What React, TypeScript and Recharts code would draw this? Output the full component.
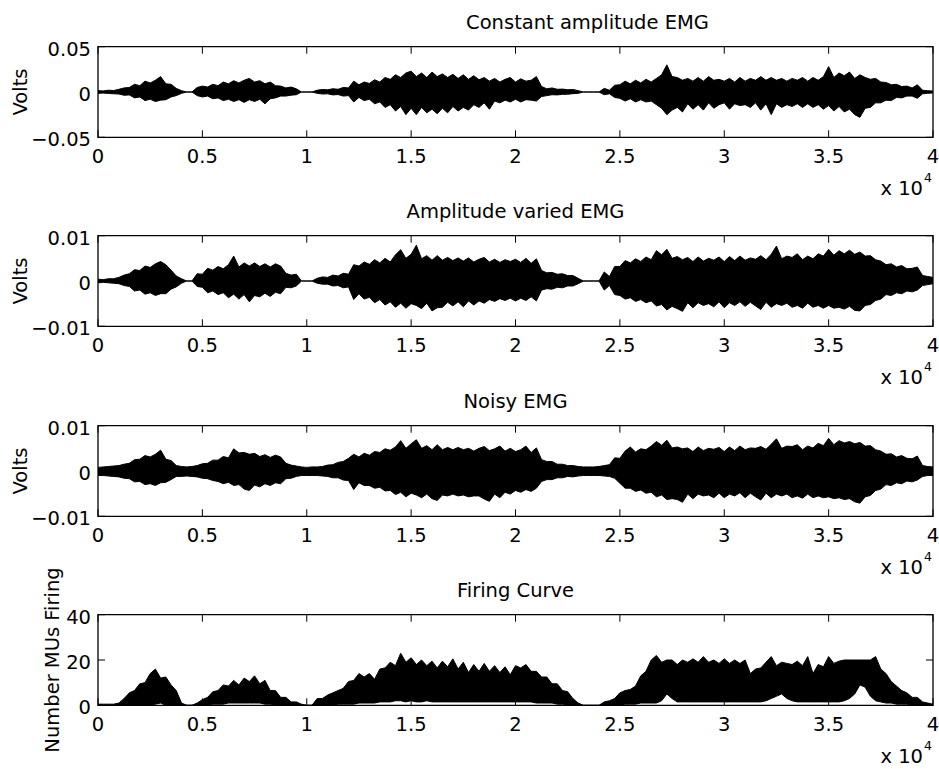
import React from 'react';
import { ComposedChart, Area, XAxis, YAxis, ReferenceArea, Label } from 'recharts';

// Sample index of every envelope reading (one reading every 250 samples)
const SAMPLE_STEP = 250;
const samples: number[] = Array.from({ length: 161 }, (_, i) => i * SAMPLE_STEP);

const xTicks = [0, 5000, 10000, 15000, 20000, 25000, 30000, 35000, 40000];
const constTicks = [-0.05, 0, 0.05];
const variedTicks = [-0.01, 0, 0.01];
const noisyTicks = [-0.01, 0, 0.01];
const firingTicks = [0, 20, 40];

// Constant amplitude EMG envelope, mV
const constHi = [
  1.5, 1.2, 2, 1.6, 3, 4.5, 5, 8.5, 7, 12,
  10, 13, 17, 9, 8.5, 4, 1.5, 0, 0, 5,
  6.5, 5.5, 8.5, 7, 11, 9, 12.5, 10, 13, 15,
  11, 12.5, 9, 11, 7, 6.5, 4.5, 5.5, 3.5, 0,
  0, 0, 2, 2.8, 2.4, 3.6, 3, 5, 4.5, 12,
  8, 11, 9.5, 13.5, 11, 16, 14, 19, 16, 21,
  23, 17, 21, 16, 22, 17, 20, 16, 19.5, 15,
  19, 14, 18, 13.5, 16, 12, 15, 11, 14, 16,
  11, 14.5, 12, 13, 17, 6, 3.5, 4.5, 3, 3.2,
  2.5, 2.8, 1.5, 0, 0, 0, 0, 4, 2, 7.5,
  8, 12, 9, 13, 10, 14, 11, 15, 19, 30,
  17, 16, 13, 15, 12, 16, 12, 17, 13, 14,
  12, 15, 11, 16, 12, 15, 13, 17, 13, 16,
  13, 15, 12, 15, 13, 16, 12, 16, 13, 17,
  28, 16, 21, 18, 22, 15, 19, 16, 14, 15,
  11, 10.5, 8, 8.5, 6, 6.5, 4.5, 8, 2, 1.5,
  1,
];
const constLo = [
  -1.5, -1.2, -1.6, -2, -2.2, -3.6, -3.2, -6.5, -5.5, -9.5,
  -8, -10.5, -9, -8.5, -5.5, -4, -1.5, 0, 0, -4,
  -5.5, -4.5, -7.5, -6.5, -9.5, -8, -10.5, -8.5, -11.5, -8.5,
  -10.5, -8, -13, -7.5, -6.5, -4.5, -4.5, -3.5, -3, 0,
  0, 0, -1.5, -2.2, -2, -3.2, -2.8, -4.5, -4, -11,
  -6, -9.5, -8, -13, -11, -17, -14, -21, -16, -25,
  -18, -25, -17, -23, -19, -24, -18, -23, -16, -21,
  -17, -20, -14, -17, -12, -19, -10, -12, -9, -11,
  -8, -11, -8.5, -9, -10, -5, -4, -3, -3.2, -2.6,
  -2.5, -1.8, -1.5, 0, 0, 0, 0, -3, -2, -6,
  -7, -10, -7.5, -11, -8.5, -11, -10, -14, -18, -25,
  -20, -17, -22, -13, -19, -14, -20, -12, -18, -14,
  -12, -19, -13, -15, -14, -17, -12, -20, -13, -25,
  -13, -17, -14, -16, -13, -17, -13, -17, -14, -19,
  -15, -21, -16, -22, -19, -25, -28, -18, -17, -12,
  -12, -9, -9.5, -6, -6.5, -4.5, -4.5, -7, -2, -1.5,
  -1,
];

// Amplitude varied EMG envelope, mV
const variedHi = [
  0.4, 0.3, 0.5, 0.5, 0.8, 1.3, 1.6, 2.5, 2.3, 3.3,
  3, 3.8, 4.3, 3.6, 2.4, 1.1, 0.5, 0, 0, 1.6,
  1.5, 2.8, 2.4, 3.2, 2.7, 3.6, 5.5, 3.1, 4, 3.3,
  4, 3.2, 3.8, 3.1, 3.8, 3.3, 1.7, 1.3, 1.5, 0,
  0, 0, 0.6, 0.9, 0.8, 1.3, 1.1, 1.7, 1.5, 3.6,
  3.3, 4.2, 3.7, 4.7, 4, 5, 4.2, 5.8, 6.9, 5,
  5.9, 7.9, 4.9, 5.6, 4.6, 5.6, 4.6, 5.2, 4.5, 5.1,
  4.4, 5.1, 4.2, 4.8, 5.2, 4.2, 4.8, 4.1, 4.7, 4.3,
  4.8, 4.1, 5, 3.9, 4.9, 2.3, 1.8, 1.9, 1.5, 1.6,
  1.2, 1.2, 0.6, 0, 0, 0, 0, 2, 1, 3.2,
  3.2, 4.5, 4, 4.9, 4.3, 5.3, 4.7, 6.7, 5.8, 7,
  5, 5.4, 4.7, 5.2, 4.3, 5.3, 4.4, 5, 4.6, 5.3,
  4.3, 5.4, 4.5, 5.5, 4.6, 5.1, 4.8, 5.6, 4.7, 5.9,
  7.7, 4.9, 5.5, 5.2, 6, 4.7, 5.5, 4.9, 6, 5.5,
  7, 5.7, 6.7, 6, 6.8, 5.9, 6.4, 5.5, 5.6, 4.7,
  4.4, 3.6, 3.8, 3.1, 3.4, 2.7, 2.8, 3.1, 1.2, 1,
  0.8,
];
const variedLo = [
  -0.4, -0.3, -0.4, -0.5, -0.6, -1, -1.2, -2.2, -2, -2.9,
  -2.6, -3.2, -2.8, -2.8, -1.8, -1.3, -0.5, 0, 0, -1.2,
  -1.4, -2.6, -2.2, -3, -2.6, -3.7, -2.9, -4, -3, -4.6,
  -3.2, -3.5, -2.7, -3.4, -2.5, -2.8, -1.4, -1.5, -1.1, 0,
  0, 0, -0.5, -0.7, -0.7, -1.1, -1, -1.5, -1.3, -4.1,
  -2.8, -4, -3.6, -4.8, -4.1, -5.3, -4.6, -5.8, -4.9, -6,
  -5, -5.4, -6.1, -4.9, -6.6, -5.9, -5.8, -4.7, -5.5, -4.6,
  -5.7, -4.4, -5.3, -4.4, -4.9, -4.1, -4.5, -3.9, -4.3, -3.8,
  -4.4, -3.8, -4.3, -3.5, -4.4, -2, -1.7, -1.8, -1.4, -1.5,
  -1.1, -1.1, -0.6, 0, 0, 0, 0, -2, -1, -3,
  -3.2, -4, -3.7, -4.5, -4.1, -4.8, -4.4, -5.5, -5.2, -6.4,
  -5.6, -6.1, -6.7, -4.8, -5.9, -4.8, -5.4, -5, -5.7, -4.6,
  -5.9, -4.8, -5.4, -4.6, -5.6, -4.7, -5.5, -6.3, -4.7, -5.8,
  -5, -5.4, -4.9, -5.8, -5.4, -6, -4.9, -5.8, -5.4, -6,
  -5.4, -6, -5.8, -6.2, -5.6, -6.5, -6.6, -5.4, -5.2, -4.3,
  -4, -3, -3.2, -2.6, -2.8, -2.2, -2.4, -2, -1, -0.8,
  -0.6,
];

// Noisy EMG envelope, mV
const noisyHi = [
  0.8, 0.9, 1, 1.1, 1.2, 1.5, 1.7, 2.5, 2.6, 3.4,
  3.1, 3.7, 4.6, 2.6, 2.3, 1.2, 1, 0.9, 1, 1.2,
  1.6, 1.7, 2.4, 2.4, 3.2, 2.9, 4.9, 4, 4.1, 3.7,
  3.9, 3.2, 3.6, 3, 3.5, 3.1, 1.7, 1.3, 1.1, 0.9,
  0.8, 0.9, 0.9, 1, 1.3, 1.4, 1.9, 2.1, 2.8, 3.7,
  3.1, 3.9, 3.5, 4.3, 4.1, 4.9, 4.6, 5.3, 6.7, 5,
  6, 6.9, 5, 5.6, 4.7, 5.8, 4.7, 5.2, 4.7, 5.2,
  4.7, 5, 4.4, 5, 5.4, 4.5, 4.9, 5.5, 4.4, 5,
  4.3, 4.7, 5.5, 4.1, 5.1, 2.5, 2.1, 2.1, 1.5, 1.5,
  1.2, 1.2, 1, 0.9, 0.9, 0.9, 1, 1.2, 1.4, 2.9,
  2.8, 4.4, 5.3, 4.2, 4.9, 4.7, 5.5, 6.5, 5.7, 6.8,
  5.1, 5.3, 4.9, 5.1, 4.3, 5.3, 4.5, 5, 4.8, 5.2,
  4.3, 5.3, 4.5, 5.5, 4.7, 5.1, 5, 5.4, 4.8, 5.9,
  7.1, 5, 5.5, 5.4, 5.8, 4.7, 5.5, 5.1, 6.1, 5.6,
  7.2, 5.8, 6.7, 6.2, 6.5, 6, 6.3, 5.5, 5.6, 4.7,
  4.4, 3.7, 3.8, 3.1, 3.4, 2.8, 2.7, 3.3, 1.2, 1,
  0.9,
];
const noisyLo = [
  -1, -1, -1.1, -1.2, -1.3, -1.6, -1.7, -2.4, -2.3, -3,
  -2.8, -3.2, -2.6, -2.5, -1.9, -1.2, -1.2, -1.1, -1.2, -1.3,
  -1.6, -1.7, -2.1, -2.3, -2.8, -2.5, -3.2, -3, -4, -4.3,
  -3.1, -3.5, -2.8, -3.2, -2.6, -2.8, -1.7, -1.6, -1.2, -1,
  -1, -1, -1, -1.1, -1.2, -1.5, -1.5, -2, -2.1, -4.1,
  -2.6, -3.2, -3.2, -3.8, -3.6, -4.4, -4.3, -5.2, -4.7, -5.7,
  -4.9, -5.3, -5.9, -5.1, -6.1, -6.5, -5.3, -5.5, -5.1, -5.5,
  -5.3, -5.7, -5.5, -5.5, -6.2, -6.7, -5.1, -5.9, -4.7, -5.1,
  -4.3, -4.7, -4.1, -4.5, -3.8, -2.3, -1.9, -1.9, -1.5, -1.5,
  -1.2, -1.3, -1.1, -1, -1, -1, -1, -1.1, -1.2, -1.6,
  -2.7, -3.8, -3.8, -4.5, -4.2, -4.9, -4.7, -5.7, -5.3, -6.3,
  -6.1, -6.3, -6.9, -5.1, -6.1, -5.1, -5.5, -5.3, -5.9, -4.9,
  -5.9, -5.1, -5.5, -4.8, -5.9, -4.9, -5.7, -6.4, -4.9, -5.9,
  -5.1, -5.5, -5.1, -5.9, -5.5, -6, -5.1, -5.9, -5.5, -5.9,
  -5.7, -6.1, -5.9, -6.3, -6.1, -6.8, -7.1, -5.7, -5.4, -4.3,
  -4, -3, -3.2, -2.6, -2.8, -2.2, -2.4, -2, -1.2, -1,
  -1,
];

// Number of motor units firing: upper and lower envelope
const firingHi = [
  0.5, 0.5, 0.5, 0.5, 1, 3, 5.5, 6.5, 9.5, 10,
  14, 16, 12, 12.5, 9, 6.5, 1, 0, 0, 1,
  2.5, 3.5, 6, 6.5, 9, 8.5, 11, 9, 12, 10.5,
  13, 9.5, 11, 6.5, 6.5, 3.5, 3.5, 1.5, 1.5, 0.5,
  0, 0, 3, 3, 4.5, 5.5, 6.5, 7.5, 10.5, 11,
  14, 12.5, 14, 11.5, 16, 16.5, 19, 17.5, 23, 19,
  21, 18, 20, 17.5, 19.5, 16.5, 19.5, 17, 20.5, 16,
  19, 14.5, 18, 15, 18.5, 15, 17.5, 14.5, 17, 13.5,
  17.5, 16.5, 18, 15, 15, 12.5, 12.5, 9.5, 9.5, 6.5,
  6, 3, 1, 0, 0, 0, 0, 1.5, 2, 3,
  5.5, 6.5, 7, 8.5, 13, 15, 20, 22, 19, 20,
  20, 18, 20, 19, 20.5, 19, 21.5, 19, 20, 18.5,
  20.5, 18.5, 20, 18.5, 20, 14, 16, 16.5, 19, 21.5,
  17.5, 19, 18.5, 18, 19.5, 17.5, 21.5, 14, 18, 17,
  21.5, 18.5, 19.5, 20, 20, 20, 20, 20, 20, 21.5,
  16, 14, 10.5, 8.5, 6.5, 5.5, 3.5, 3.5, 1.5, 1,
  0.5,
];
const firingLo = [
  0, 0, 0, 0, 0, 0, 0, 0, 0, 0,
  0, 0.5, 1, 0, 0, 0, 0, 0, 0, 0,
  0, 0, 0.5, 0.5, 0.5, 1, 1, 1, 1, 1,
  1, 1, 0.5, 0.5, 0, 0, 0, 0, 0, 0,
  0, 0, 0, 0, 0, 0, 0.5, 0.5, 0.5, 0.5,
  1, 1, 1, 1, 1.5, 1.5, 1.5, 2, 2, 1.5,
  2, 1.5, 1.5, 2, 1.5, 1.5, 1.5, 1.5, 1.5, 1.5,
  1.5, 1.5, 1.5, 1.5, 1.5, 1.5, 1.5, 1.5, 1.5, 1.5,
  1.5, 1.5, 1.5, 1.5, 1, 1, 1, 1, 0.5, 0.5,
  0, 0, 0, 0, 0, 0, 0, 0, 0, 0,
  0, 0.5, 0.5, 0.5, 1, 1, 1, 1, 2, 5,
  3, 1.5, 1.5, 1.5, 1.5, 1.5, 1.5, 1.5, 1.5, 1.5,
  1.5, 1.5, 1.5, 1.5, 1.5, 1.5, 1.5, 1.5, 2, 3,
  4, 5, 3, 2, 1.5, 1.5, 1.5, 1.5, 1.5, 1.5,
  1.5, 1.5, 1.5, 2, 3, 5, 9, 8, 4, 2,
  1.5, 1, 1, 0.5, 0.5, 0.5, 0, 0, 0, 0,
  0,
];

const FONT = '"DejaVu Sans", "Liberation Sans", sans-serif';
const FONT_SIZE = 19.5;
const PLOT_LEFT = 98;
const PLOT_WIDTH = 835;
const PLOT_HEIGHT = 90.6;
const TOP_PAD = 46.7;
const CHART_W = 939;
const CHART_H = 230;
const X_AXIS_H = 80;
const TICK_LEN = 7;
const PANEL_STEP = 189.3;

type Row = { s: number; range: [number, number] };

function buildRows(lo: number[], hi: number[], scale: number): Row[] {
  return samples.map((s, i) => ({ s, range: [lo[i] * scale, hi[i] * scale] }));
}

function fmtNum(v: number): string {
  if (v === 0) return '0';
  return (v < 0 ? '\u2212' : '') + String(Math.abs(v));
}

const XTick = (props: any) => {
  const { x, y, payload } = props;
  return (
    <g>
      <line x1={x} y1={y} x2={x} y2={y - TICK_LEN} stroke="#000" strokeWidth={1} />
      <line x1={x} y1={y - PLOT_HEIGHT} x2={x} y2={y - PLOT_HEIGHT + TICK_LEN} stroke="#000" strokeWidth={1} />
      <text x={x} y={y + 26} textAnchor="middle" fill="#000" style={{ fontFamily: FONT, fontSize: FONT_SIZE }}>
        {String(payload.value / 10000)}
      </text>
    </g>
  );
};

const YTick = (props: any) => {
  const { x, y, payload } = props;
  return (
    <g>
      <line x1={x} y1={y} x2={x + TICK_LEN} y2={y} stroke="#000" strokeWidth={1} />
      <line x1={x + PLOT_WIDTH} y1={y} x2={x + PLOT_WIDTH - TICK_LEN} y2={y} stroke="#000" strokeWidth={1} />
      <text x={x - 7} y={y + 9} textAnchor="end" fill="#000" style={{ fontFamily: FONT, fontSize: FONT_SIZE }}>
        {fmtNum(payload.value)}
      </text>
    </g>
  );
};

type PanelProps = {
  index: number;
  rows: Row[];
  domain: [number, number];
  ticks: number[];
  title: string;
  titleShift: number;
  yLabel: string;
  yLabelX: number;
};

function Panel({ index, rows, domain, ticks, title, titleShift, yLabel, yLabelX }: PanelProps) {
  const frameText = (p: any) => {
    const vb = p.viewBox || {};
    const x0 = vb.x ?? PLOT_LEFT;
    const y0 = vb.y ?? TOP_PAD;
    const w = vb.width ?? PLOT_WIDTH;
    const h = vb.height ?? PLOT_HEIGHT;
    const textStyle = { fontFamily: FONT, fontSize: FONT_SIZE };
    return (
      <g>
        <text x={x0 + w / 2 + titleShift} y={y0 - 17.5} textAnchor="middle" fill="#000" style={textStyle}>
          {title}
        </text>
        <text
          x={yLabelX}
          y={y0 + h / 2}
          textAnchor="middle"
          dominantBaseline="central"
          transform={`rotate(-90 ${yLabelX} ${y0 + h / 2})`}
          fill="#000"
          style={textStyle}
        >
          {yLabel}
        </text>
        <text x={x0 + w - 10} y={y0 + h + 58} textAnchor="end" fill="#000" style={textStyle}>
          x 10
        </text>
        <text x={x0 + w - 9} y={y0 + h + 45} textAnchor="start" fill="#000" style={{ fontFamily: FONT, fontSize: 12.5 }}>
          4
        </text>
      </g>
    );
  };

  return (
    <div style={{ position: 'absolute', left: 0, top: index * PANEL_STEP }}>
      <ComposedChart
        width={CHART_W}
        height={CHART_H}
        data={rows}
        margin={{
          top: TOP_PAD,
          right: CHART_W - PLOT_LEFT - PLOT_WIDTH,
          left: 0,
          bottom: CHART_H - TOP_PAD - PLOT_HEIGHT - X_AXIS_H,
        }}
      >
        <XAxis
          dataKey="s"
          type="number"
          domain={[0, 40000]}
          ticks={xTicks}
          interval={0}
          height={X_AXIS_H}
          tickSize={0}
          tickMargin={0}
          axisLine={false}
          tickLine={false}
          tick={<XTick />}
          allowDataOverflow
        />
        <YAxis
          type="number"
          domain={domain}
          ticks={ticks}
          interval={0}
          width={PLOT_LEFT}
          tickSize={0}
          tickMargin={0}
          axisLine={false}
          tickLine={false}
          tick={<YTick />}
          allowDataOverflow
        />
        <Area
          dataKey="range"
          type="linear"
          stroke="#000"
          strokeWidth={1}
          fill="#000"
          fillOpacity={1}
          dot={false}
          activeDot={false}
          isAnimationActive={false}
        />
        <ReferenceArea
          x1={0}
          x2={40000}
          y1={domain[0]}
          y2={domain[1]}
          fill="none"
          fillOpacity={0}
          stroke="#000"
          strokeWidth={1.3}
          ifOverflow="visible"
        >
          <Label content={frameText} />
        </ReferenceArea>
      </ComposedChart>
    </div>
  );
}

const constRows = buildRows(constLo, constHi, 0.001);
const variedRows = buildRows(variedLo, variedHi, 0.001);
const noisyRows = buildRows(noisyLo, noisyHi, 0.001);
const firingRows = buildRows(firingLo, firingHi, 1);

export default function App() {
  return (
    <div style={{ position: 'absolute', left: 0, top: 0, width: CHART_W, height: 769, background: '#fff', overflow: 'hidden' }}>
      <Panel index={0} rows={constRows} domain={[-0.05, 0.05]} ticks={constTicks} title="Constant amplitude EMG" titleShift={72} yLabel="Volts" yLabelX={20} />
      <Panel index={1} rows={variedRows} domain={[-0.01, 0.01]} ticks={variedTicks} title="Amplitude varied EMG" titleShift={0} yLabel="Volts" yLabelX={20} />
      <Panel index={2} rows={noisyRows} domain={[-0.01, 0.01]} ticks={noisyTicks} title="Noisy EMG" titleShift={0} yLabel="Volts" yLabelX={20} />
      <Panel index={3} rows={firingRows} domain={[0, 40]} ticks={firingTicks} title="Firing Curve" titleShift={0} yLabel="Number MUs Firing" yLabelX={52.5} />
    </div>
  );
}
